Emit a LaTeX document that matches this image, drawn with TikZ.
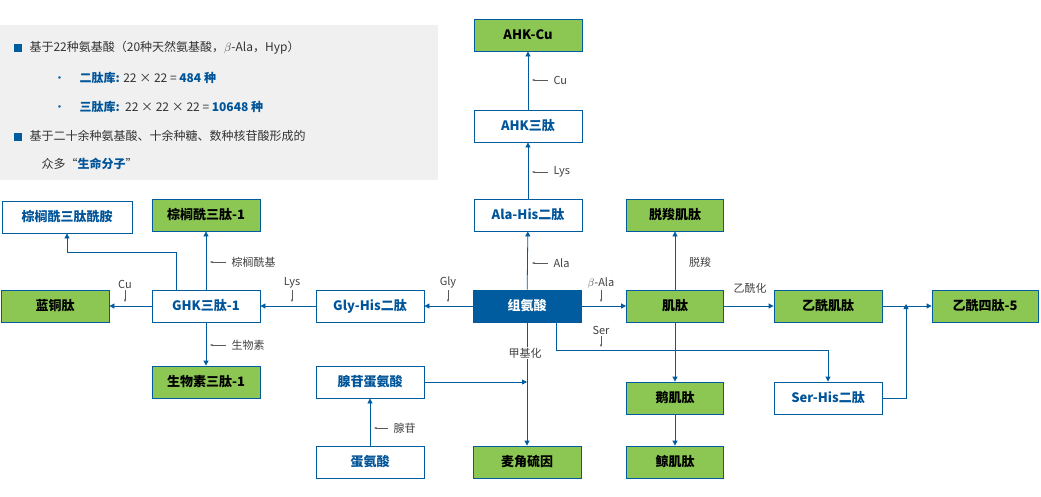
\documentclass[tikz,border=0pt]{standalone}
\usepackage{fontspec}
\setmainfont{Noto Sans CJK SC}
\usetikzlibrary{arrows.meta,positioning}
\definecolor{lnblue}{rgb}{0.0,0.36,0.62}
\definecolor{grn}{rgb}{0.55,0.78,0.33}
\definecolor{txtblue}{rgb}{0.0,0.33,0.6}
\newcommand{\sqbul}{\textcolor{lnblue}{\rule{8pt}{8pt}}}
\tikzset{
  box/.style={draw=lnblue,thick,minimum width=108pt,minimum height=32pt,inner sep=1pt,font=\fontsize{13}{13}\selectfont\bfseries,text=txtblue,fill=white},
  gbox/.style={box,fill=grn,text=black},
  hbox/.style={box,fill=lnblue,text=white},
  link/.style={lnblue,thick,-{Triangle[length=5pt,width=5pt]}},
  tag/.style={gray!70!black,-{Stealth[length=3pt]}},
  lbl/.style={font=\fontsize{11}{11}\selectfont,text=black!75}
}
\begin{document}
\begin{tikzpicture}[x=1pt,y=-1pt]
\useasboundingbox (0,0) rectangle (1041,496);
% info box
\fill[gray!12] (0,25) rectangle (438,180);
\begin{scope}[font=\fontsize{12}{12}\selectfont,text=black!80]
\node[anchor=west] (i1) at (10,48) {\sqbul\hspace{8pt}基于22种氨基酸（20种天然氨基酸，$\beta$-Ala，Hyp）};
\node[anchor=west] (i2) at (50,78) {\textcolor{lnblue}{•}\hspace{14pt}\textcolor{txtblue}{\bfseries 二肽库:} 22 × 22 = \textcolor{txtblue}{\bfseries 484 种}};
\node[anchor=west] (i3) at (50,107) {\textcolor{lnblue}{•}\hspace{14pt}\textcolor{txtblue}{\bfseries 三肽库:}\ \ 22 × 22 × 22 = \textcolor{txtblue}{\bfseries 10648 种}};
\node[anchor=west] (i4) at (10,136) {\sqbul\hspace{8pt}基于二十余种氨基酸、十余种糖、数种核苷酸形成的};
\node[anchor=west] (i5) at (38,164) {众多“\textcolor{txtblue}{\bfseries 生命分子}”};
\end{scope}
% nodes
\node[hbox] (his) at (527,306) {组氨酸};
\node[box] (alahis) at (528,215) {Ala-His二肽};
\node[box] (ahk) at (528,126) {AHK三肽};
\node[gbox] (ahkcu) at (528,35) {AHK-Cu};
\node[box] (glyhis) at (370,306) {Gly-His二肽};
\node[box] (ghk) at (206,306) {GHK三肽-1};
\node[gbox] (lantong) at (55,306) {蓝铜肽};
\node[gbox] (zong) at (206,215) {棕榈酰三肽-1};
\node[box,minimum width=130pt] (zongam) at (67,217) {棕榈酰三肽酰胺};
\node[gbox] (shengwu) at (206,382) {生物素三肽-1};
\node[gbox,minimum width=97pt] (jitai) at (675,306) {肌肽};
\node[gbox,minimum width=97pt] (tuosuo) at (675,215) {脱羧肌肽};
\node[gbox] (yixian) at (828,306) {乙酰肌肽};
\node[gbox,minimum width=106pt] (sitai) at (985,306) {乙酰四肽-5};
\node[box] (serhis) at (828,398) {Ser-His二肽};
\node[gbox,minimum width=97pt] (e) at (675,398) {鹅肌肽};
\node[gbox,minimum width=97pt] (jing) at (675,462) {鲸肌肽};
\node[gbox] (maijiao) at (527,462) {麦角硫因};
\node[box] (sam) at (370,382) {腺苷蛋氨酸};
\node[box] (met) at (370,462) {蛋氨酸};
% links
\draw[link] (his) -- (alahis);
\draw[link] (alahis) -- (ahk);
\draw[link] (ahk) -- (ahkcu);
\draw[link] (his) -- (glyhis);
\draw[link] (glyhis) -- (ghk);
\draw[link] (ghk) -- (lantong);
\draw[link] (ghk) -- (zong);
\draw[link] (ghk) -- (shengwu);
\coordinate (g1) at (176,252);
\draw[link] (ghk.north -| g1) -- (g1) -| (zongam.south);
\draw[link] (his) -- (jitai);
\draw[link] (jitai) -- (tuosuo);
\draw[link] (jitai) -- (yixian);
\draw[link] (yixian) -- (sitai);
\draw[link] (jitai) -- (e);
\draw[link] (e) -- (jing);
\draw[link] (his) -- (maijiao);
\coordinate (s1) at (556,350);
\draw[link] (his.south -| s1) -- (s1) -| (serhis.north);
\coordinate (s2) at (906,306);
\draw[link] (serhis.east) -| ([yshift=2pt]s2);
\draw[link] (sam.east) -- (sam.east -| maijiao);
\draw[link] (met) -- (sam);
% tags
\draw[tag] (548,80) -- (532,80) node[lbl,anchor=west,pos=0,xshift=2pt] {Cu};
\draw[tag] (548,172) -- (532,172) node[lbl,anchor=west,pos=0,xshift=2pt] {Lys};
\draw[tag] (548,263) -- (532,263) node[lbl,anchor=west,pos=0,xshift=2pt] {Ala};
\draw[tag] (226,262) -- (210,262) node[lbl,anchor=west,pos=0,xshift=2pt] {棕榈酰基};
\draw[tag] (226,345) -- (210,345) node[lbl,anchor=west,pos=0,xshift=2pt] {生物素};
\draw[tag] (388,428) -- (374,428) node[lbl,anchor=west,pos=0,xshift=2pt] {腺苷};
\draw[tag] (448,290) -- (448,302) node[lbl,anchor=south,pos=0,yshift=-2pt] {Gly};
\draw[tag] (292,290) -- (292,302) node[lbl,anchor=south,pos=0,yshift=-2pt] {Lys};
\draw[tag] (125,290) -- (125,302) node[lbl,anchor=south,pos=0,yshift=-2pt] {Cu};
\draw[tag] (601,290) -- (601,302) node[lbl,anchor=south,pos=0,yshift=-2pt] {$\beta$-Ala};
\draw[tag] (601,336) -- (601,347) node[lbl,anchor=south,pos=0,yshift=-2pt] {Ser};
\node[lbl,fill=white,inner sep=1pt] (jia) at (525,353) {甲基化};
\node[lbl] (tuo) at (700,262) {脱羧};
\node[lbl] (yi) at (750,288) {乙酰化};
\end{tikzpicture}
\end{document}
